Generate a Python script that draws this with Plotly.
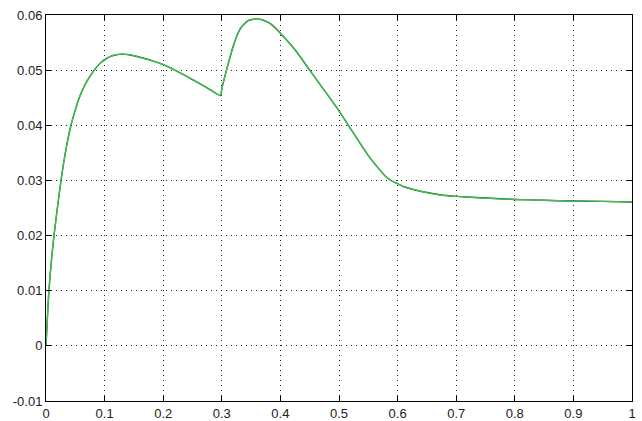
import plotly.graph_objects as go

x_vals = [0, 0.005, 0.0136, 0.0256, 0.034, 0.0426, 0.05, 0.0568, 0.064, 0.071, 0.0823,
          0.09, 0.1, 0.11, 0.12, 0.13, 0.142, 0.165, 0.187, 0.2, 0.22, 0.25, 0.275, 0.2976,
          0.3003, 0.306, 0.31, 0.315, 0.32, 0.325, 0.33, 0.335, 0.345, 0.359, 0.37, 0.38,
          0.39, 0.4, 0.425, 0.45, 0.484, 0.5, 0.516, 0.55, 0.565, 0.578, 0.59, 0.6, 0.61,
          0.625, 0.65, 0.671, 0.7, 0.75, 0.8, 0.85, 0.9, 0.95, 1.0]
y_vals = [0, 0.01, 0.02, 0.03, 0.0356, 0.04, 0.0428, 0.0450, 0.0468, 0.0482, 0.0500,
          0.0510, 0.0519, 0.0525, 0.0528, 0.0529, 0.0528, 0.0522, 0.0515, 0.0510, 0.0500,
          0.0483, 0.0468, 0.0454, 0.0468, 0.0492, 0.0508, 0.0527, 0.0545, 0.0560, 0.0572,
          0.0580, 0.0590, 0.0593, 0.0591, 0.0586, 0.0578, 0.0567, 0.0537, 0.0500, 0.0450,
          0.0426, 0.0400, 0.0345, 0.0325, 0.0309, 0.0299, 0.0294, 0.0289, 0.0284, 0.0278,
          0.0274, 0.0271, 0.0268, 0.02655, 0.0264, 0.02626, 0.0262, 0.0261]

x_ticks = [0, 0.1, 0.2, 0.3, 0.4, 0.5, 0.6, 0.7, 0.8, 0.9, 1]
x_labels = ["0", "0.1", "0.2", "0.3", "0.4", "0.5", "0.6", "0.7", "0.8", "0.9", "1"]
y_ticks = [-0.01, 0, 0.01, 0.02, 0.03, 0.04, 0.05, 0.06]
y_labels = ["-0.01", "0", "0.01", "0.02", "0.03", "0.04", "0.05", "0.06"]

fig = go.Figure()
fig.add_trace(go.Scatter(x=x_vals, y=y_vals, mode="lines",
                         line=dict(color="#123040", width=1.4, shape="spline", smoothing=0.5),
                         showlegend=False, hoverinfo="skip"))
fig.add_trace(go.Scatter(x=x_vals, y=y_vals, mode="lines",
                         line=dict(color="#44e044", width=1.3, shape="spline", smoothing=0.5),
                         opacity=0.85, showlegend=False))

axis_common = dict(showline=True, linecolor="black", linewidth=1, mirror="ticks",
                   ticks="inside", ticklen=5, tickcolor="black", showgrid=True,
                   gridcolor="#222222", griddash="1px,4px", gridwidth=1, zeroline=False,
                   ticklabeloverflow="allow", automargin=False,
                   tickfont=dict(family="Liberation Sans, Arial", size=13, color="#222222"))

fig.update_xaxes(range=[0, 1], tickvals=x_ticks, ticktext=x_labels, **axis_common)
fig.update_yaxes(range=[-0.01, 0.06], tickvals=y_ticks, ticktext=y_labels, **axis_common)

fig.update_layout(width=642, height=421,
                  margin=dict(l=46, r=10, t=15, b=20, autoexpand=False),
                  plot_bgcolor="white", paper_bgcolor="white")

fig.write_html("out.html", config={"displayModeBar": False},
               post_script="document.body.style.margin='0';document.body.style.overflow='hidden';")
